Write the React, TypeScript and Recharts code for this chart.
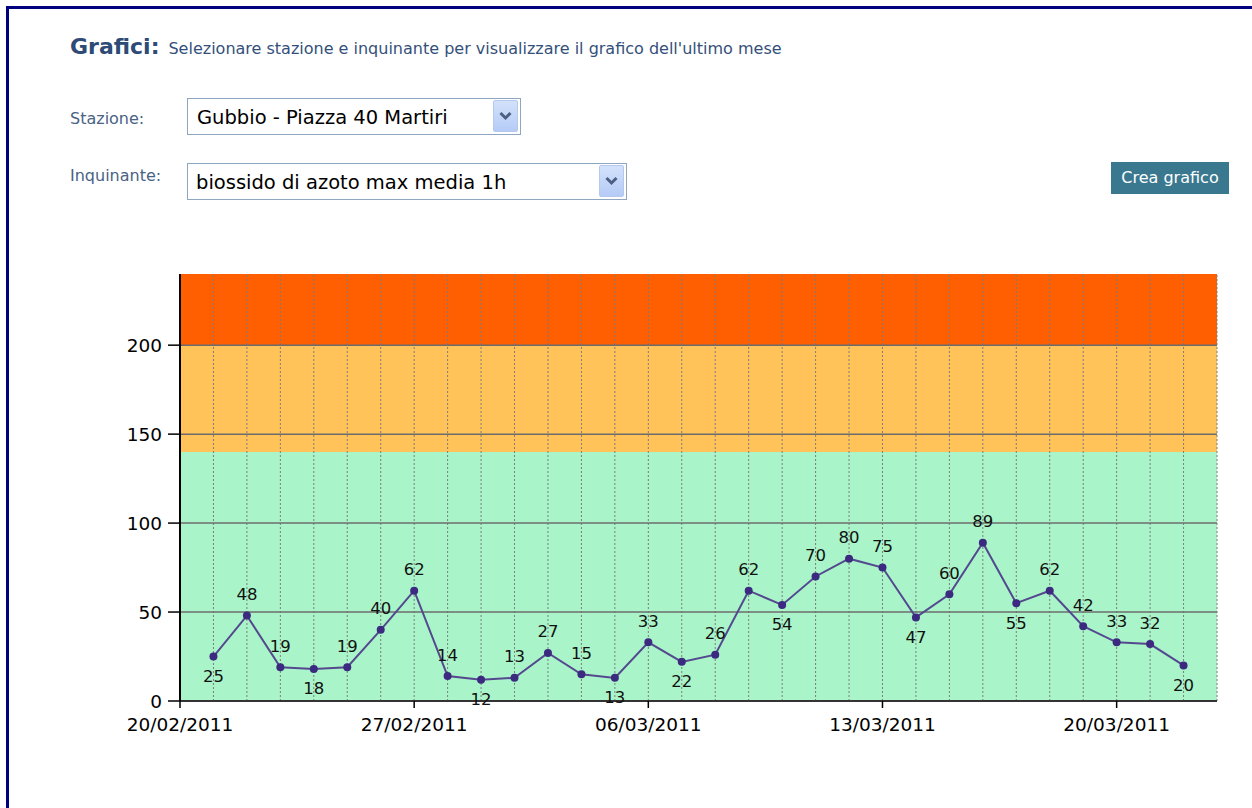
import {
  ComposedChart,
  LabelList,
  Line,
  ReferenceArea,
  ReferenceLine,
  XAxis,
  YAxis,
} from "recharts";

const values = [
  25, 48, 19, 18, 19, 40, 62, 14, 12, 13, 27, 15, 13, 33, 22, 26, 62, 54, 70, 80,
  75, 47, 60, 89, 55, 62, 42, 33, 32, 20,
];
const xTickDays = [0, 7, 14, 21, 28];
const xTickLabels = ["20/02/2011", "27/02/2011", "06/03/2011", "13/03/2011", "20/03/2011"];
const yTicks = [0, 50, 100, 150, 200];
const bandEdges = [0, 140, 200, 240];
const bandColors = ["#a9f5c9", "#ffc35a", "#ff5f00"];
const gridDays = Array.from({ length: 31 }, (_, i) => i + 1);

const data = values.map((value, i) => ({ day: i + 1, value }));

const FONT = "'DejaVu Sans', sans-serif";

function PointLabel(props: any) {
  const { x, y, value, index } = props;
  const prev = values[index - 1];
  const next = values[index + 1];
  const low = (prev === undefined || value <= prev) && (next === undefined || value <= next);
  return (
    <text
      x={x}
      y={low ? y + 20 : y - 21}
      textAnchor="middle"
      dominantBaseline="central"
      fontFamily={FONT}
      fontSize={16.5}
      fill="#111"
    >
      {value}
    </text>
  );
}

function Chevron({ left, top, w, h }: { left: number; top: number; w: number; h: number }) {
  return (
    <div
      style={{
        position: "absolute",
        left,
        top,
        width: w,
        height: h,
        boxSizing: "border-box",
        border: "1px solid #b4c8f0",
        background: "linear-gradient(#d3e2fb, #b5cbf6)",
        borderRadius: 2,
      }}
    >
      <svg width={w - 2} height={h - 2} style={{ display: "block" }}>
        <polyline
          points={`${w / 2 - 6},${h / 2 - 4} ${w / 2 - 1},${h / 2 + 1} ${w / 2 + 4},${h / 2 - 4}`}
          fill="none"
          stroke="#4d5f85"
          strokeWidth={3}
        />
      </svg>
    </div>
  );
}

export default function App() {
  return (
    <div style={{ position: "absolute", left: 0, top: 0, width: 1252, height: 808, background: "#fff", overflow: "hidden", fontFamily: FONT }}>
      <div style={{ position: "absolute", left: 6, top: 6, width: 1300, height: 900, borderTop: "3px solid #00007f", borderLeft: "3px solid #00007f" }} />

      <div style={{ position: "absolute", left: 70, top: 34, whiteSpace: "nowrap", color: "#2e4a76" }}>
        <span style={{ fontSize: 22, fontWeight: "bold" }}>Grafici:</span>
        <span style={{ fontSize: 16, marginLeft: 9, color: "#34507a" }}>
          Selezionare stazione e inquinante per visualizzare il grafico dell'ultimo mese
        </span>
      </div>

      <div style={{ position: "absolute", left: 70, top: 109, fontSize: 16, color: "#4a6284" }}>Stazione:</div>
      <div style={{ position: "absolute", left: 70, top: 166, fontSize: 16, color: "#4a6284" }}>Inquinante:</div>

      <div style={{ position: "absolute", left: 187, top: 98, width: 334, height: 37, boxSizing: "border-box", border: "1px solid #8fa6c0" }}>
        <div style={{ position: "absolute", left: 9, top: 7, fontSize: 19.5, color: "#000", whiteSpace: "nowrap" }}>
          Gubbio - Piazza 40 Martiri
        </div>
      </div>
      <Chevron left={493} top={100} w={25} h={32} />

      <div style={{ position: "absolute", left: 187, top: 163, width: 440, height: 37, boxSizing: "border-box", border: "1px solid #8fa6c0" }}>
        <div style={{ position: "absolute", left: 8, top: 7, fontSize: 19.5, color: "#000", whiteSpace: "nowrap" }}>
          biossido di azoto max media 1h
        </div>
      </div>
      <Chevron left={599} top={165} w={25} h={32} />

      <div
        style={{
          position: "absolute",
          left: 1111,
          top: 162,
          width: 118,
          height: 32,
          background: "#3a7890",
          color: "#fff",
          fontSize: 16,
          lineHeight: "32px",
          textAlign: "center",
          whiteSpace: "nowrap",
        }}
      >
        Crea grafico
      </div>

      <div style={{ position: "absolute", left: 0, top: 250 }}>
        <ComposedChart width={1252} height={500} data={data} margin={{ top: 24, right: 35, bottom: 9, left: 120 }}>
          <XAxis
            type="number"
            dataKey="day"
            domain={[0, 31]}
            ticks={xTickDays}
            tickFormatter={(d: number) => xTickLabels[xTickDays.indexOf(d)]}
            interval={0}
            height={40}
            tickSize={7}
            tickMargin={10}
            axisLine={{ stroke: "#333", strokeWidth: 2 }}
            tickLine={{ stroke: "#000", strokeWidth: 1.5 }}
            tick={{ fill: "#000", fontSize: 18.5, fontFamily: FONT }}
          />
          <YAxis
            type="number"
            domain={[0, 240]}
            ticks={yTicks}
            interval={0}
            width={60}
            tickSize={12}
            tickMargin={6}
            axisLine={{ stroke: "#000", strokeWidth: 2 }}
            tickLine={{ stroke: "#000", strokeWidth: 1.5 }}
            tick={{ fill: "#000", fontSize: 18.5, fontFamily: FONT }}
          />
          {bandColors.map((color, i) => (
            <ReferenceArea
              key={color}
              y1={bandEdges[i]}
              y2={bandEdges[i + 1]}
              fill={color}
              fillOpacity={1}
              stroke="none"
              ifOverflow="hidden"
            />
          ))}
          {gridDays.map((d) => (
            <ReferenceLine key={`v${d}`} x={d} stroke="#7c7c7c" strokeDasharray="2 2" />
          ))}
          {yTicks.slice(1).map((v) => (
            <ReferenceLine key={`h${v}`} y={v} stroke="#6c6c6c" strokeWidth={1.5} />
          ))}
          <Line
            type="linear"
            dataKey="value"
            stroke="#54498f"
            strokeWidth={2}
            dot={{ r: 4, fill: "#3b2a80", stroke: "#3b2a80", strokeWidth: 0 }}
            activeDot={false}
            isAnimationActive={false}
          >
            <LabelList dataKey="value" content={PointLabel} />
          </Line>
        </ComposedChart>
      </div>
    </div>
  );
}
